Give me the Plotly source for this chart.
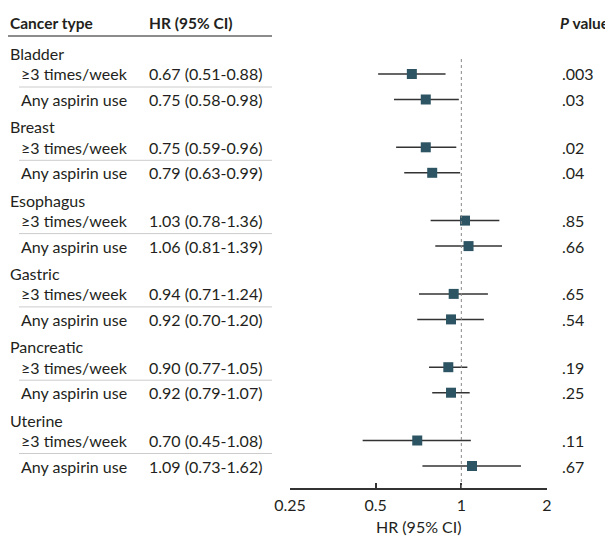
import plotly.graph_objects as go

cancer_types = ["Bladder", "Breast", "Esophagus", "Gastric", "Pancreatic", "Uterine"]
subgroups = ["≥3 times/week", "Any aspirin use"]
hr = [[0.67, 0.75], [0.75, 0.79], [1.03, 1.06], [0.94, 0.92], [0.90, 0.92], [0.70, 1.09]]
ci_low = [[0.51, 0.58], [0.59, 0.63], [0.78, 0.81], [0.71, 0.70], [0.77, 0.79], [0.45, 0.73]]
ci_high = [[0.88, 0.98], [0.96, 0.99], [1.36, 1.39], [1.24, 1.20], [1.05, 1.07], [1.08, 1.62]]
p_values = [[".003", ".03"], [".02", ".04"], [".85", ".66"], [".65", ".54"], [".19", ".25"], [".11", ".67"]]
tick_vals = [0.25, 0.5, 1, 2]
tick_text = ["0.25", "0.5", "1", "2"]

# page body has an 8px margin; size the figure so it fills the 613x537 view
OFF = 8
W, H = 613 - OFF, 537 - OFF
FONT = "Lato"
FS = 16
FS_HEAD = 15.5
TXT = "#231f20"
AXIS_Y = 488  # view pixel row of x-axis line

def row_y(g, k):
    return 74 + 73.3 * g + (25.5 if k == 1 else 0)

def label_y(g):
    return 74 + 73.3 * g - 20.5

def px(x):
    return (x - OFF) / W

def py(y):
    return 1 - (y - OFF) / H

fig = go.Figure()

xs, ys, ep, em = [], [], [], []
for g in range(len(cancer_types)):
    for k in range(2):
        xs.append(hr[g][k])
        ys.append(row_y(g, k))
        ep.append(ci_high[g][k] - hr[g][k])
        em.append(hr[g][k] - ci_low[g][k])

fig.add_trace(go.Scatter(
    x=xs, y=ys, mode="markers",
    marker=dict(symbol="square", size=10, color="#2C5462"),
    error_x=dict(type="data", array=ep, arrayminus=em, symmetric=False,
                 color="#333333", thickness=1.5, width=0),
    hoverinfo="skip", showlegend=False, cliponaxis=False,
))

shapes = []
shapes.append(dict(type="line", xref="x", yref="y", x0=1, x1=1, y0=59, y1=AXIS_Y,
                   line=dict(color="#888888", width=1, dash="dot")))
shapes.append(dict(type="line", xref="paper", yref="y", x0=px(8), x1=px(272), y0=36, y1=36,
                   line=dict(color="#666666", width=1.5)))

def ann(text, x, y, anchor="left", size=FS):
    return dict(text=text, x=px(x), y=py(y), xref="paper", yref="paper",
                xanchor=anchor, yanchor="middle", showarrow=False,
                font=dict(family=FONT, size=size, color=TXT))

annotations = [
    ann("<b>Cancer type</b>", 8, 23, size=FS_HEAD),
    ann("<b>HR (95% CI)</b>", 147, 23, size=FS_HEAD),
    ann("<b><i>P</i></b><b> value</b>", 611, 23, "right", size=FS_HEAD),
]

for g, name in enumerate(cancer_types):
    annotations.append(ann(name, 8, label_y(g)))
    for k in range(2):
        y = row_y(g, k)
        annotations.append(ann(subgroups[k], 19, y))
        annotations.append(ann(f"{hr[g][k]:.2f} ({ci_low[g][k]:.2f}-{ci_high[g][k]:.2f})", 147, y))
        annotations.append(ann(p_values[g][k], 560, y))
    yd = row_y(g, 0) + 13
    shapes.append(dict(type="line", xref="paper", yref="y", x0=px(19), x1=px(272),
                       y0=yd, y1=yd, line=dict(color="#cccccc", width=1)))

annotations.append(ann("HR (95% CI)", (290 + 547) / 2, 526, "center"))

fig.update_layout(
    width=W, height=H,
    margin=dict(l=0, r=0, t=0, b=0, pad=0, autoexpand=False),
    paper_bgcolor="white", plot_bgcolor="white",
    shapes=shapes, annotations=annotations,
    xaxis=dict(type="log", range=[-0.60206, 0.30103], domain=[px(290), px(547)],
               tickvals=tick_vals, ticktext=tick_text, ticks="inside", ticklen=5,
               tickcolor="#333333", tickwidth=1.5, showline=True, linecolor="#333333", linewidth=1.5,
               showgrid=False, zeroline=False, automargin=False, fixedrange=True,
               ticklabelstandoff=2,
               tickfont=dict(family=FONT, size=FS, color=TXT)),
    yaxis=dict(range=[AXIS_Y, OFF], domain=[1 - (AXIS_Y - OFF) / H, 1], visible=False,
               showgrid=False, zeroline=False, automargin=False, fixedrange=True),
)

fig.write_html("out.html")
